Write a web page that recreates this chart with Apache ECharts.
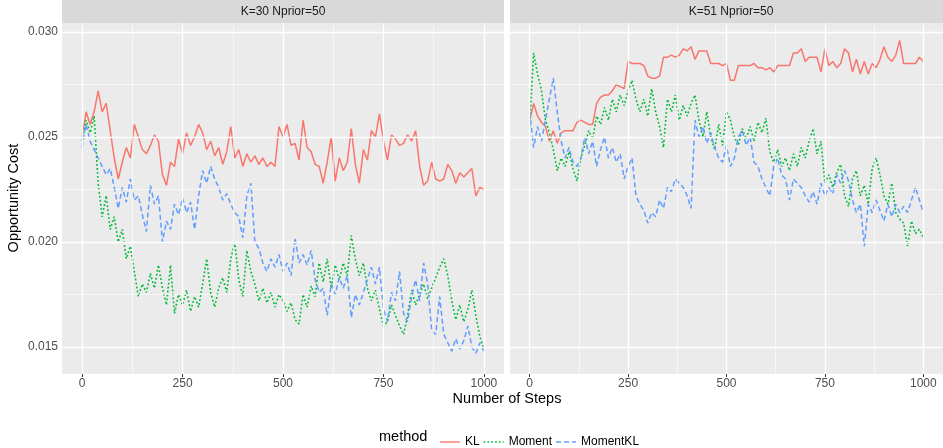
<!DOCTYPE html>
<html>
<head>
<meta charset="utf-8">
<script src="https://cdn.jsdelivr.net/npm/echarts@6/dist/echarts.min.js"></script>
<style>
  html, body { margin: 0; padding: 0; background: #fff; }
  #chart { width: 943px; height: 448px; }
</style>
</head>
<body>
<div id="chart"></div>
<script>
const steps = [
  0, 10, 20, 30, 40, 50, 60, 70, 80, 90,
  100, 110, 120, 130, 140, 150, 160, 170, 180, 190,
  200, 210, 220, 230, 240, 250, 260, 270, 280, 290,
  300, 310, 320, 330, 340, 350, 360, 370, 380, 390,
  400, 410, 420, 430, 440, 450, 460, 470, 480, 490,
  500, 510, 520, 530, 540, 550, 560, 570, 580, 590,
  600, 610, 620, 630, 640, 650, 660, 670, 680, 690,
  700, 710, 720, 730, 740, 750, 760, 770, 780, 790,
  800, 810, 820, 830, 840, 850, 860, 870, 880, 890,
  900, 910, 920, 930, 940, 950, 960, 970, 980, 990,
  1000
]

const panelTitles = ['K=30 Nprior=50', 'K=51 Nprior=50']
const methods = ['KL', 'Moment', 'MomentKL']

// K=30 panel
const k30KL = [
  0.0250, 0.0262, 0.0256, 0.0262, 0.0272, 0.0262, 0.0266, 0.0253, 0.0240, 0.0230,
  0.0238, 0.0245, 0.0240, 0.0256, 0.0250, 0.0244, 0.0242, 0.0246, 0.0251, 0.0248,
  0.0232, 0.0227, 0.0238, 0.0236, 0.0249, 0.0242, 0.0252, 0.0246, 0.0250, 0.0256,
  0.0252, 0.0244, 0.0248, 0.0241, 0.0245, 0.0237, 0.0243, 0.0255, 0.0240, 0.0244,
  0.0236, 0.0242, 0.0238, 0.0241, 0.0237, 0.0240, 0.0236, 0.0238, 0.0236, 0.0255,
  0.0250, 0.0256, 0.0246, 0.0247, 0.0239, 0.0258, 0.0245, 0.0243, 0.0237, 0.0236,
  0.0228, 0.0238, 0.0250, 0.0229, 0.0240, 0.0234, 0.0238, 0.0254, 0.0237, 0.0228,
  0.0244, 0.0239, 0.0253, 0.0250, 0.0261, 0.0248, 0.0239, 0.0251, 0.0249, 0.0246,
  0.0247, 0.0251, 0.0248, 0.0253, 0.0236, 0.0227, 0.0229, 0.0238, 0.0230, 0.0229,
  0.0230, 0.0237, 0.0234, 0.0228, 0.0233, 0.0231, 0.0233, 0.0235, 0.0222, 0.0226,
  0.0225
]
const k30Moment = [
  0.0248, 0.0258, 0.0252, 0.0260, 0.0228, 0.0212, 0.0222, 0.0206, 0.0212, 0.0200,
  0.0206, 0.0192, 0.0198, 0.0186, 0.0174, 0.0180, 0.0176, 0.0185, 0.0178, 0.0189,
  0.0178, 0.0170, 0.0189, 0.0166, 0.0175, 0.0170, 0.0177, 0.0167, 0.0174, 0.0169,
  0.0180, 0.0192, 0.0176, 0.0169, 0.0178, 0.0183, 0.0176, 0.0192, 0.0200, 0.0182,
  0.0174, 0.0196, 0.0186, 0.0180, 0.0172, 0.0178, 0.0171, 0.0176, 0.0169, 0.0175,
  0.0172, 0.0167, 0.0171, 0.0163, 0.0161, 0.0175, 0.0169, 0.0179, 0.0174, 0.0190,
  0.0181, 0.0192, 0.0178, 0.0189, 0.0182, 0.0190, 0.0184, 0.0203, 0.0192, 0.0184,
  0.0190, 0.0178, 0.0172, 0.0177, 0.0168, 0.0160, 0.0162, 0.0170, 0.0165, 0.0160,
  0.0156, 0.0165, 0.0177, 0.0170, 0.0175, 0.0180, 0.0173, 0.0178, 0.0183, 0.0188,
  0.0192, 0.0184, 0.0172, 0.0163, 0.0170, 0.0162, 0.0168, 0.0177, 0.0165, 0.0155,
  0.0149
]
const k30MomentKL = [
  0.0245, 0.0256, 0.0248, 0.0244, 0.0240, 0.0236, 0.0232, 0.0235, 0.0226, 0.0216,
  0.0226, 0.0219, 0.0230, 0.0220, 0.0222, 0.0213, 0.0205, 0.0227, 0.0218, 0.0222,
  0.0200, 0.0210, 0.0206, 0.0218, 0.0213, 0.0221, 0.0214, 0.0219, 0.0206, 0.0222,
  0.0234, 0.0228, 0.0236, 0.0230, 0.0226, 0.0220, 0.0223, 0.0218, 0.0214, 0.0212,
  0.0202, 0.0222, 0.0228, 0.0200, 0.0197, 0.0190, 0.0186, 0.0192, 0.0188, 0.0194,
  0.0186, 0.0190, 0.0184, 0.0202, 0.0190, 0.0194, 0.0189, 0.0196, 0.0182, 0.0176,
  0.0178, 0.0165, 0.0180, 0.0175, 0.0183, 0.0178, 0.0184, 0.0164, 0.0175, 0.0170,
  0.0176, 0.0182, 0.0188, 0.0180, 0.0188, 0.0168, 0.0162, 0.0176, 0.0172, 0.0186,
  0.0166, 0.0162, 0.0174, 0.0182, 0.0172, 0.0190, 0.0180, 0.0158, 0.0156, 0.0174,
  0.0156, 0.0152, 0.0148, 0.0154, 0.0149, 0.0153, 0.0160, 0.0150, 0.0147, 0.0152,
  0.0148
]

// K=51 panel
const k51KL = [
  0.0258, 0.0266, 0.0260, 0.0257, 0.0255, 0.0248, 0.0253, 0.0247, 0.0252, 0.0253,
  0.0253, 0.0253, 0.0257, 0.0258, 0.0257, 0.0256, 0.0256, 0.0266, 0.0269, 0.0270,
  0.0270, 0.0272, 0.0275, 0.0274, 0.0273, 0.0286, 0.0285, 0.0285, 0.0285, 0.0284,
  0.0279, 0.0278, 0.0278, 0.0279, 0.0288, 0.0288, 0.0289, 0.0288, 0.0289, 0.0292,
  0.0291, 0.0293, 0.0287, 0.0291, 0.0291, 0.0291, 0.0285, 0.0285, 0.0285, 0.0284,
  0.0285, 0.0277, 0.0277, 0.0284, 0.0284, 0.0284, 0.0284, 0.0285, 0.0283, 0.0283,
  0.0282, 0.0283, 0.0281, 0.0284, 0.0284, 0.0284, 0.0284, 0.0290, 0.0290, 0.0292,
  0.0286, 0.0288, 0.0288, 0.0288, 0.0281, 0.0292, 0.0284, 0.0286, 0.0283, 0.0285,
  0.0292, 0.0290, 0.0281, 0.0287, 0.0280, 0.0286, 0.0280, 0.0285, 0.0283, 0.0287,
  0.0293, 0.0288, 0.0286, 0.0289, 0.0296, 0.0285, 0.0285, 0.0285, 0.0285, 0.0288,
  0.0286
]
const k51Moment = [
  0.0255, 0.0290, 0.0280, 0.0272, 0.0258, 0.0252, 0.0244, 0.0234, 0.0240, 0.0236,
  0.0243, 0.0235, 0.0229, 0.0240, 0.0246, 0.0253, 0.0249, 0.0260, 0.0256, 0.0264,
  0.0258, 0.0268, 0.0262, 0.0270, 0.0265, 0.0272, 0.0277, 0.0268, 0.0262, 0.0268,
  0.0260, 0.0273, 0.0262, 0.0255, 0.0245, 0.0268, 0.0262, 0.0270, 0.0258, 0.0265,
  0.0260, 0.0266, 0.0270, 0.0258, 0.0250, 0.0262, 0.0250, 0.0244, 0.0256, 0.0246,
  0.0262, 0.0258, 0.0250, 0.0246, 0.0254, 0.0249, 0.0255, 0.0248, 0.0257, 0.0252,
  0.0259, 0.0243, 0.0238, 0.0244, 0.0236, 0.0240, 0.0234, 0.0242, 0.0236, 0.0245,
  0.0240, 0.0248, 0.0254, 0.0242, 0.0248, 0.0228, 0.0232, 0.0226, 0.0233, 0.0237,
  0.0222, 0.0217, 0.0230, 0.0234, 0.0222, 0.0227, 0.0218, 0.0235, 0.0240, 0.0232,
  0.0222, 0.0218, 0.0228, 0.0214, 0.0211, 0.0209, 0.0198, 0.0210, 0.0204, 0.0206,
  0.0202
]
const k51MomentKL = [
  0.0262, 0.0245, 0.0255, 0.0248, 0.0258, 0.0268, 0.0278, 0.0262, 0.0248, 0.0240,
  0.0245, 0.0238, 0.0236, 0.0240, 0.0250, 0.0242, 0.0248, 0.0236, 0.0244, 0.0250,
  0.0240, 0.0245, 0.0238, 0.0242, 0.0230, 0.0236, 0.0240, 0.0222, 0.0218, 0.0215,
  0.0209, 0.0214, 0.0212, 0.0220, 0.0216, 0.0226, 0.0224, 0.0230, 0.0228, 0.0226,
  0.0222, 0.0216, 0.0258, 0.0250, 0.0255, 0.0247, 0.0252, 0.0245, 0.0240, 0.0238,
  0.0246, 0.0236, 0.0240, 0.0250, 0.0253, 0.0246, 0.0250, 0.0238, 0.0236, 0.0230,
  0.0226, 0.0222, 0.0236, 0.0240, 0.0232, 0.0230, 0.0220, 0.0230, 0.0228, 0.0226,
  0.0222, 0.0219, 0.0224, 0.0218, 0.0228, 0.0222, 0.0226, 0.0223, 0.0232, 0.0228,
  0.0234, 0.0229, 0.0220, 0.0214, 0.0218, 0.0198, 0.0218, 0.0214, 0.0220, 0.0215,
  0.0210, 0.0218, 0.0212, 0.0218, 0.0214, 0.0217, 0.0214, 0.0220, 0.0226, 0.0220,
  0.0214
]

const xMajor = [0, 250, 500, 750, 1000]
const xMinor = [125, 375, 625, 875]
const yMajor = [0.015, 0.020, 0.025, 0.030]
const yMinor = [0.0175, 0.0225, 0.0275]

const panelData = [
  [k30KL, k30Moment, k30MomentKL],
  [k51KL, k51Moment, k51MomentKL]
]

const colors = ['#F8766D', '#00BA38', '#619CFF']
const dashes = ['solid', [1.8, 2.2], [5, 3]]
const widths = [1.5, 1.6, 1.5]
// legend keys: a short stroke in the middle of a 20x14 box (the two leading moves keep the box size)
const keyIcons = [
  'path://M0,0M20,14M0,6.3H20V7.7H0Z',
  'path://M0,0M20,14M0,6.2H1.7V7.8H0ZM3.8,6.2H5.5V7.8H3.8ZM7.6,6.2H9.3V7.8H7.6ZM11.4,6.2H13.1V7.8H11.4ZM15.2,6.2H16.9V7.8H15.2ZM19,6.2H20V7.8H19Z',
  'path://M0,0M20,14M0,6.3H5V7.7H0ZM8,6.3H13V7.7H8ZM16,6.3H20V7.7H16Z'
]
const FONT = 'Liberation Sans, Arial, sans-serif'

const panelLeft = [62, 510]
const panelWidth = 442
const panelTop = 23
const panelHeight = 351

const chart = echarts.init(document.getElementById('chart'))

const grids = panelLeft.map(l => ({
  left: l, top: panelTop, width: panelWidth, height: panelHeight,
  show: true, backgroundColor: '#EBEBEB', borderWidth: 0
}))

const xAxes = panelLeft.map((l, i) => ({
  type: 'value', gridIndex: i, min: -50, max: 1050,
  axisLine: { show: false },
  axisTick: { show: true, customValues: xMajor, length: 3, lineStyle: { color: '#333', width: 1 } },
  axisLabel: {
    customValues: xMajor, color: '#4D4D4D', fontSize: 12, fontFamily: FONT, margin: 4,
    formatter: v => String(v)
  },
  splitLine: { show: false }
}))

const yAxes = panelLeft.map((l, i) => ({
  type: 'value', gridIndex: i, min: 0.013714, max: 0.030429,
  axisLine: { show: false },
  axisTick: { show: i === 0, customValues: yMajor, length: 3, lineStyle: { color: '#333', width: 1 } },
  axisLabel: {
    show: i === 0, customValues: yMajor, color: '#4D4D4D', fontSize: 12, fontFamily: FONT, margin: 4,
    formatter: v => v.toFixed(3)
  },
  splitLine: { show: false }
}))

const series = []
panelLeft.forEach((l, i) => {
  // white grid lines, drawn on the library's scales
  const lines = []
  xMinor.forEach(v => lines.push({ xAxis: v, lineStyle: { width: 0.6 } }))
  yMinor.forEach(v => lines.push({ yAxis: v, lineStyle: { width: 0.6 } }))
  xMajor.forEach(v => lines.push({ xAxis: v, lineStyle: { width: 1.3 } }))
  yMajor.forEach(v => lines.push({ yAxis: v, lineStyle: { width: 1.3 } }))
  series.push({
    name: 'grid' + i, type: 'line', xAxisIndex: i, yAxisIndex: i, data: [], z: 1,
    markLine: {
      silent: true, precision: 10, symbol: ['none', 'none'], label: { show: false },
      lineStyle: { color: '#FFFFFF', type: 'solid' },
      data: lines
    }
  })
  methods.forEach((m, j) => {
    series.push({
      name: m, type: 'line', xAxisIndex: i, yAxisIndex: i, z: 3,
      symbol: 'none', showSymbol: false,
      lineStyle: { color: colors[j], width: widths[j], type: dashes[j] },
      itemStyle: { color: colors[j] },
      data: steps.map((s, k) => [s, panelData[i][j][k]])
    })
  })
})

const graphics = []
panelLeft.forEach((l, i) => {
  graphics.push({
    type: 'rect', shape: { x: l, y: 0, width: panelWidth, height: panelTop }, style: { fill: '#D9D9D9' }
  })
  graphics.push({
    type: 'text', x: l + panelWidth / 2, y: panelTop / 2,
    style: { text: panelTitles[i], fill: '#1A1A1A', font: '12px ' + FONT, textAlign: 'center', textVerticalAlign: 'middle' }
  })
})
graphics.push({
  type: 'text', x: 507, y: 399,
  style: { text: 'Number of Steps', fill: '#000', font: '14.5px ' + FONT, textAlign: 'center', textVerticalAlign: 'middle' }
})
graphics.push({
  type: 'text', x: 14, y: 198, rotation: Math.PI / 2,
  style: { text: 'Opportunity Cost', fill: '#000', font: '14.5px ' + FONT, textAlign: 'center', textVerticalAlign: 'middle' }
})
graphics.push({
  type: 'text', x: 379, y: 437,
  style: { text: 'method', fill: '#000', font: '14.5px ' + FONT, textAlign: 'left', textVerticalAlign: 'middle' }
})

chart.setOption({
  animation: false,
  backgroundColor: '#FFFFFF',
  grid: grids,
  xAxis: xAxes,
  yAxis: yAxes,
  legend: {
    data: methods.map((m, j) => ({ name: m, icon: keyIcons[j], itemStyle: { color: colors[j] } })),
    left: 435, top: 430, itemWidth: 20, itemHeight: 14, itemGap: 4,
    textStyle: { color: '#000', fontSize: 12, fontFamily: FONT }
  },
  graphic: graphics,
  series: series
})
</script>
</body>
</html>
